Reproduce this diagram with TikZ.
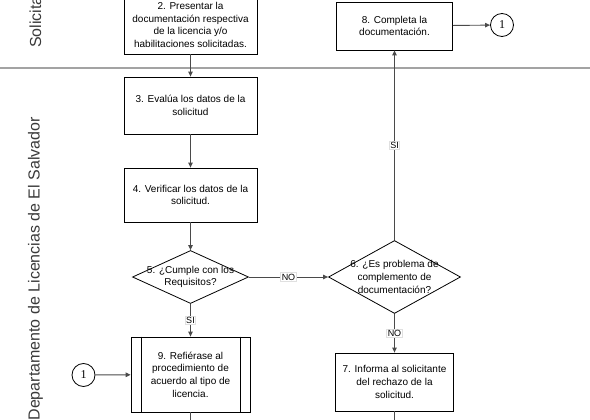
\documentclass[tikz,border=0pt]{standalone}
\usepackage{fontspec}
\setmainfont{Liberation Sans}
\newfontfamily\numfont{Liberation Serif}
\usetikzlibrary{arrows.meta,positioning,shapes.geometric}
\definecolor{laneline}{HTML}{A3A3A3}
\definecolor{wire}{HTML}{4A4A4A}
\definecolor{lanetext}{HTML}{3A3A3A}

\begin{document}
\begin{tikzpicture}[x=1pt,y=-1pt,>={Triangle[length=5pt,width=4.5pt]},
  every node/.style={font=\fontsize{10}{12.7}\selectfont},
  proc/.style={draw=black,fill=white,line width=0.8pt,align=center,inner sep=0pt},
  decision/.style={draw=black,fill=white,line width=0.8pt,diamond,inner sep=0pt},
  conn/.style={draw=black,fill=white,line width=0.8pt,circle,minimum size=23pt,inner sep=0pt,font=\numfont\fontsize{12}{12}\selectfont},
  tag/.style={fill=white,draw=black!12,inner sep=1pt,font=\fontsize{9}{10}\selectfont},
  lanelbl/.style={rotate=90,inner sep=0pt,text=lanetext,font=\fontsize{16}{16}\selectfont},
  wireline/.style={draw=wire,line width=0.9pt}]
  \useasboundingbox (0,0) rectangle (590,420);
  \clip (0,0) rectangle (590,420);
  % lanes
  \draw[laneline,line width=1.6pt] (0,68) -- (590,68);
  \node[lanelbl,anchor=west] (lsol) at (35.5,48) {Solicitante};
  \node[lanelbl,anchor=east] (ldep) at (35.5,117) {Departamento de Licencias de El Salvador};
  % steps
  \node[proc,minimum width=133pt,minimum height=58pt] (b2) at (190.5,25) {2. Presentar la\\documentación respectiva\\de la licencia y/o\\habilitaciones solicitadas.};
  \node[proc,minimum width=133pt,minimum height=57pt] (b3) at (190.5,105.5) {3. Evalúa los datos de la\\solicitud};
  \node[proc,minimum width=133pt,minimum height=54pt] (b4) at (190.5,195) {4. Verificar los datos de la\\solicitud.};
  \node[decision,minimum width=116pt,minimum height=53pt,
        label={[align=center]center:{5. ¿Cumple con los\\Requisitos?}}] (d5) at (190.5,277) {};
  \node[decision,minimum width=132pt,minimum height=73pt,
        label={[align=center]center:{6. ¿Es problema de\\complemento de\\documentación?}}] (d6) at (394.5,277) {};
  \node[proc,minimum width=116pt,minimum height=48pt] (b8) at (394.5,26) {8. Completa la\\documentación.};
  \node[proc,minimum width=118pt,minimum height=58pt] (b7) at (394.5,382) {7. Informa al solicitante\\del rechazo de la\\solicitud.};
  \node[proc,minimum width=119pt,minimum height=75pt] (b9) at (190.5,374.5) {9. Refiérase al\\procedimiento de\\acuerdo al tipo de\\licencia.};
  \draw[line width=0.8pt] ([xshift=11pt]b9.north west) -- ([xshift=11pt]b9.south west);
  \draw[line width=0.8pt] ([xshift=-10pt]b9.north east) -- ([xshift=-10pt]b9.south east);
  \node[conn] (c1a) at (502,25) {1};
  \node[conn] (c1b) at (83.5,375) {1};
  \coordinate (e9) at (190.5,430);
  \coordinate (e7) at (394.5,430);
  % connectors
  \draw[wireline,->] (b2) -- (b3);
  \draw[wireline,->] (b3) -- (b4);
  \draw[wireline,->] (b4) -- (d5);
  \draw[wireline,->] (d5) -- node[tag] {NO} (d6);
  \draw[wireline,->] (d6) -- node[tag] {SI} (b8);
  \draw[wireline,->] (d5) -- node[tag] {SI} (b9);
  \draw[wireline,->] (d6) -- node[tag] {NO} (b7);
  \draw[wireline,->] (b8) -- (c1a);
  \draw[wireline,->] (c1b) -- (b9);
  \draw[wireline] (b9) -- (e9);
  \draw[wireline] (b7) -- (e7);
\end{tikzpicture}
\end{document}
